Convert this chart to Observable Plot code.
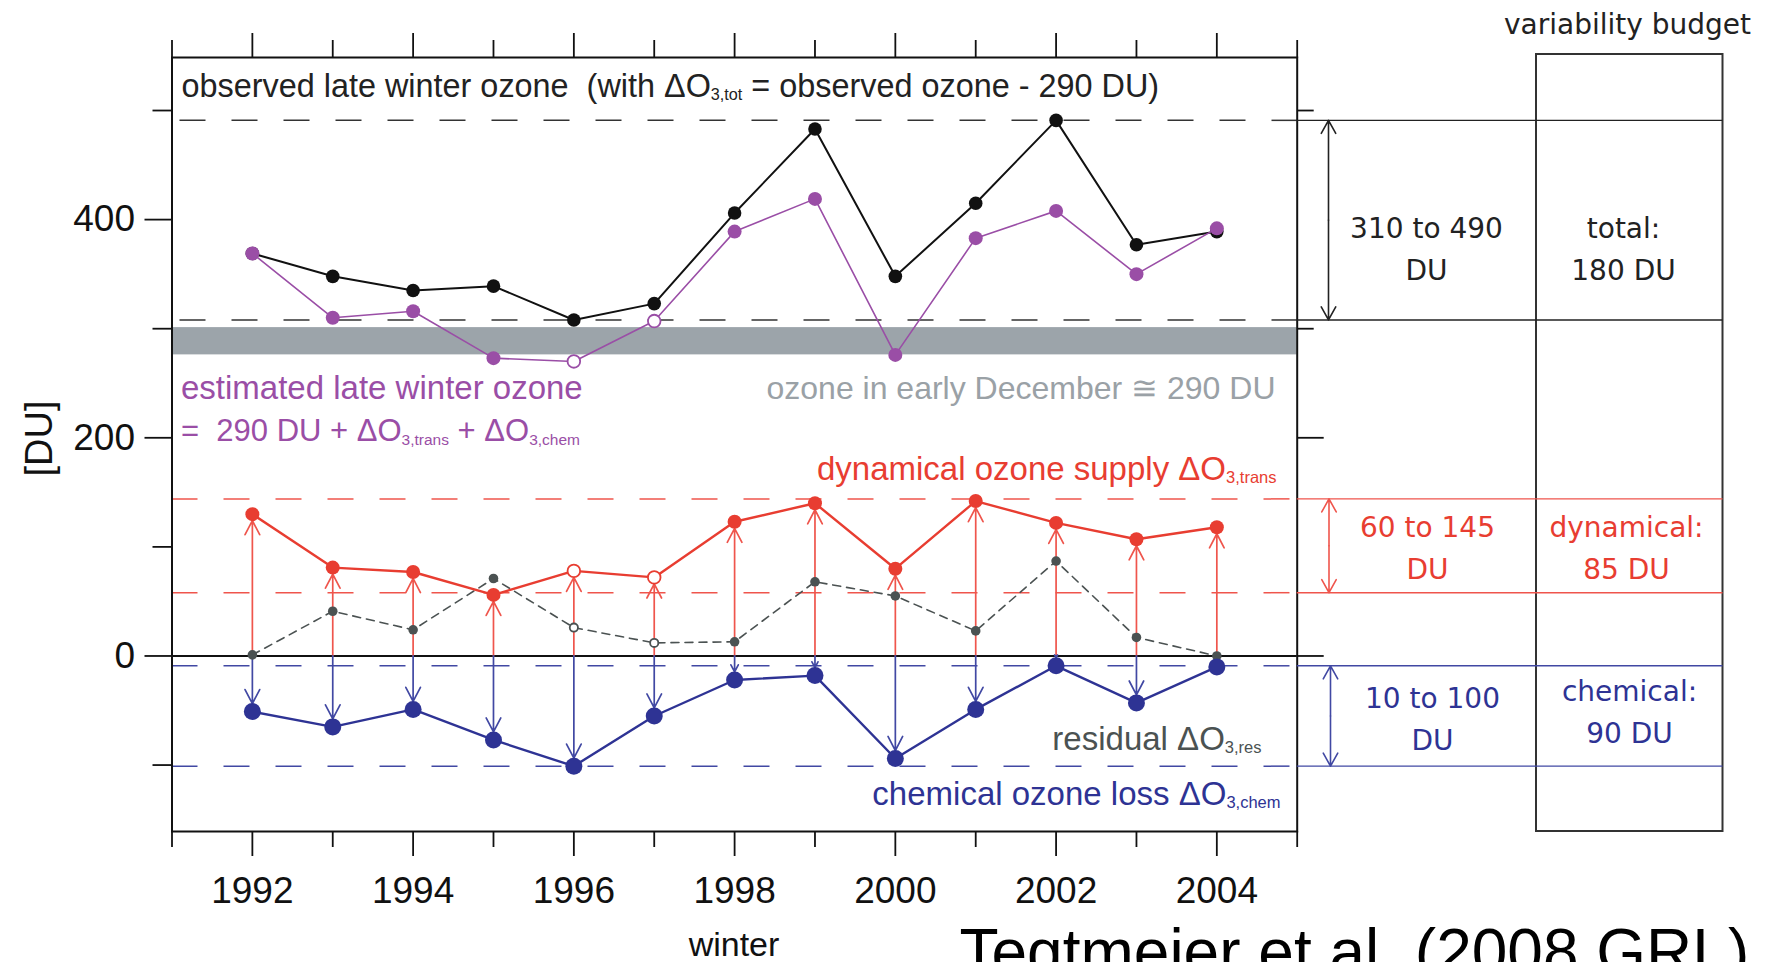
<!DOCTYPE html>
<html><head><meta charset="utf-8">
<script src="https://cdn.jsdelivr.net/npm/d3@7"></script>
<script src="https://cdn.jsdelivr.net/npm/@observablehq/plot@0.6"></script>
<style>html,body{margin:0;padding:0;background:#fff;overflow:hidden}</style>
</head><body><div id="chart"></div>
<script>
// ---------------- data ----------------
const winters   = [1992,1993,1994,1995,1996,1997,1998,1999,2000,2001,2002,2003,2004];
const observed  = [369, 348, 335, 339, 308, 323, 406, 483, 348, 415, 491, 377, 389];
const estimated = [369, 310, 316, 273, 270, 307, 389, 419, 276, 383, 408, 350, 392];
const dynamical = [130,  81,  77,  56,  78,  72, 123, 140,  80, 142, 122, 107, 118];
const chemical  = [-51, -65, -49, -77,-101, -55, -22, -18, -94, -49,  -9, -43, -10];
const residual  = [  1,  41,  24,  71,  26,  12,  13,  68,  55,  23,  87,  17,   0];
const openMarker= [false,false,false,false,true,true,false,false,false,false,false,false,false];

const totalRange = [308, 491];
const dynRange   = [58, 144];
const chemRange  = [-9, -101];
const decemberBand = [276, 301];

const yMajorTicks = [0, 200, 400];
const yMinorTicks = [-100, 100, 300, 500];
const yRightShort = [300, 500];
const yRightLong  = [0, 200];
const evenYears = [1992,1994,1996,1998,2000,2002,2004];
const oddYears  = [1991,1993,1995,1997,1999,2001,2003,2005];

const txtObserved  = "observed late winter ozone  (with ΔO_{3,tot} = observed ozone - 290 DU)";
const txtEstimated = "estimated late winter ozone";
const txtEstFormula= "=  290 DU + ΔO_{3,trans} + ΔO_{3,chem}";
const txtDecember  = "ozone in early December ≅ 290 DU";
const txtDynamical = "dynamical ozone supply ΔO_{3,trans}";
const txtResidual  = "residual ΔO_{3,res}";
const txtChemical  = "chemical ozone loss ΔO_{3,chem}";
const budgetTitle  = "variability budget";
const rangeLabels  = ["310 to 490\nDU", "60 to 145\nDU", "10 to 100\nDU"];
const budgetLabels = ["total:\n180 DU", "dynamical:\n85 DU", "chemical:\n90 DU"];
const xLabel = "winter";
const yLabel = "[DU]";
const citation = "Tegtmeier et al. (2008 GRL)";

// ---------------- layout ----------------
const W = 1769, H = 962;
const frameL = 171.5, frameR = 1296.7, frameT = 57, frameB = 831;
const xDomain = [1991, 2005];
const yDomain = [-160.9, 548.6];
const xS = Plot.scale({x: {domain: xDomain, range: [frameL, frameR]}});
const yS = Plot.scale({y: {domain: yDomain, range: [frameB, frameT]}});
const px = v => xS.invert(v), py = v => yS.invert(v);

const BLACK = "#111", PURPLE = "#9a4ea6", RED = "#e83d31", REDL = "#ef554c",
      BLUE = "#2e3394", BLUEL = "#4148a3", GREY = "#9ca4aa", RESID = "#4b5252";
const fAnn = "Liberation Sans, Arial, Helvetica, sans-serif";
const fBud = "DejaVu Sans, Verdana, sans-serif";

const rows = winters.map((w, i) => ({
  winter: w, observed: observed[i], estimated: estimated[i], dynamical: dynamical[i],
  chemical: chemical[i], residual: residual[i], open: openMarker[i]
}));

function series(key, color, r, sw, opts = {}) {
  const {noOpen, ...lineOpts} = opts;
  return [
    Plot.line(rows, {x: "winter", y: key, stroke: color, strokeWidth: sw, ...lineOpts}),
    Plot.dot(rows, {filter: d => !d.open || noOpen, x: "winter", y: key, r, fill: color, stroke: "none"}),
    Plot.dot(rows, {filter: d => d.open && !noOpen, x: "winter", y: key, r: r - 0.7, fill: "white", stroke: color, strokeWidth: 1.8})
  ];
}

function bracket(range, color, xpx) {
  const mid = (range[0] + range[1]) / 2;
  return Plot.arrow(range, {x1: px(xpx), x2: px(xpx), y1: mid, y2: d => d,
    stroke: color, strokeWidth: 1.6, headLength: 14, headAngle: 58});
}

const boxL = px(1536), boxR = px(1722.5);

const ann = (text, xp, yp, o) => Plot.text([text], {x: px(xp), y: py(yp), text: d => d,
  fontFamily: fAnn, fontSize: 33, lineAnchor: "middle", ...o});
const bud = (text, xp, yp, color) => Plot.text([text], {x: px(xp), y: py(yp), text: d => d,
  fontFamily: fBud, fontSize: 28, lineHeight: 1.5, fill: color});

const chart = Plot.plot({
  width: W, height: H,
  marginLeft: frameL, marginRight: W - frameR, marginTop: frameT, marginBottom: H - frameB,
  x: {domain: xDomain, label: null},
  y: {domain: yDomain, label: null},
  style: {fontFamily: fAnn, fontSize: "14px", background: "white", color: "#111"},
  marks: [
    // grey band: ozone in early December
    Plot.rect([decemberBand], {x1: xDomain[0], x2: xDomain[1], y1: d => d[0], y2: d => d[1], fill: GREY}),
    // dashed range lines
    Plot.ruleY(totalRange, {x1: xDomain[0], x2: xDomain[1], stroke: "#333", strokeWidth: 1.5, strokeDasharray: "26,26", strokeDashoffset: -8}),
    Plot.ruleY(dynRange, {x1: xDomain[0], x2: xDomain[1], stroke: REDL, strokeWidth: 1.5, strokeDasharray: "26,26", strokeDashoffset: 0}),
    Plot.ruleY(chemRange, {x1: xDomain[0], x2: xDomain[1], stroke: BLUEL, strokeWidth: 1.5, strokeDasharray: "26,26", strokeDashoffset: 0}),
    // zero line
    Plot.ruleY([0], {x1: xDomain[0], x2: xDomain[1], stroke: BLACK, strokeWidth: 2}),
    // arrows
    Plot.arrow(rows, {x1: "winter", x2: "winter", y1: 0, y2: "dynamical", stroke: REDL, strokeWidth: 1.7, headLength: 14, headAngle: 55, insetEnd: 6.5}),
    Plot.arrow(rows, {x1: "winter", x2: "winter", y1: 0, y2: "chemical", stroke: BLUEL, strokeWidth: 1.7, headLength: 14, headAngle: 55, insetEnd: 8}),
    // series
    ...series("residual", RESID, 4.8, 1.6, {strokeDasharray: "8,6"}),
    ...series("dynamical", RED, 7, 2.4),
    ...series("chemical", BLUE, 8.5, 2.4, {noOpen: true}),
    ...series("observed", BLACK, 6.8, 2, {noOpen: true}),
    ...series("estimated", PURPLE, 7, 1.6),
    // frame + axes
    Plot.frame({stroke: "#111", strokeWidth: 2}),
    Plot.axisY(yMajorTicks, {anchor: "left", tickSize: 27, tickPadding: 10, fontSize: 37, strokeWidth: 1.8, label: null, tickFormat: d => String(d)}),
    Plot.axisY(yMinorTicks, {anchor: "left", tickSize: 19, strokeWidth: 1.8, label: null, tickFormat: () => ""}),
    Plot.axisY(yRightShort, {anchor: "right", tickSize: 16, strokeWidth: 1.8, label: null, tickFormat: () => ""}),
    Plot.axisY(yRightLong, {anchor: "right", tickSize: 26, strokeWidth: 1.8, label: null, tickFormat: () => ""}),
    Plot.axisX(evenYears, {anchor: "top", tickSize: 25, strokeWidth: 1.8, label: null, tickFormat: () => ""}),
    Plot.axisX(oddYears, {anchor: "top", tickSize: 18, strokeWidth: 1.8, label: null, tickFormat: () => ""}),
    Plot.axisX(evenYears, {anchor: "bottom", tickSize: 25, tickPadding: 20, fontSize: 37, strokeWidth: 1.8, label: null, tickFormat: d => String(d)}),
    Plot.axisX(oddYears, {anchor: "bottom", tickSize: 16, strokeWidth: 1.8, label: null, tickFormat: () => ""}),
    Plot.text([xLabel], {x: px(733.5), y: py(945), text: d => d, fontSize: 34, fontFamily: fAnn}),
    Plot.text([yLabel], {x: px(39.5), y: py(438), rotate: -90, text: d => d, fontSize: 38, fontFamily: fAnn}),
    Plot.text([citation], {x: px(959), y: py(953), text: d => d, textAnchor: "start", fontSize: 64, fontFamily: fAnn, fill: "#000"}),
    // annotations in plot
    ann(txtObserved, 181, 86, {textAnchor: "start", fill: "#222", fontSize: 32.4}),
    ann(txtEstimated, 180.5, 388, {textAnchor: "start", fill: PURPLE}),
    ann(txtEstFormula, 180.5, 431, {textAnchor: "start", fill: PURPLE, fontSize: 31}),
    ann(txtDecember, 1275, 388, {textAnchor: "end", fill: "#9aa1a6", fontSize: 32}),
    ann(txtDynamical, 1276, 469, {textAnchor: "end", fill: RED}),
    ann(txtResidual, 1261, 739, {textAnchor: "end", fill: RESID}),
    ann(txtChemical, 1280, 794, {textAnchor: "end", fill: BLUE}),
    // right panel: variability budget
    Plot.rect([0], {x1: boxL, x2: boxR, y1: py(54), y2: py(frameB), fill: "none", stroke: "#333", strokeWidth: 2}),
    Plot.ruleY(totalRange, {x1: xDomain[1], x2: boxR, stroke: "#222", strokeWidth: 1.4}),
    Plot.ruleY(dynRange, {x1: xDomain[1], x2: boxR, stroke: REDL, strokeWidth: 1.4}),
    Plot.ruleY(chemRange, {x1: xDomain[1], x2: boxR, stroke: BLUEL, strokeWidth: 1.4}),
    bracket(totalRange, "#222", 1328),
    bracket(dynRange, REDL, 1328.5),
    bracket(chemRange, BLUEL, 1330),
    Plot.text([budgetTitle], {x: px(1627), y: py(25), text: d => d, fontFamily: fBud, fontSize: 28, fill: "#222"}),
    bud(rangeLabels[0], 1426, 245.5, "#222"),
    bud(rangeLabels[1], 1427, 544, RED),
    bud(rangeLabels[2], 1432, 715.5, BLUE),
    bud(budgetLabels[0], 1623, 245.5, "#222"),
    bud(budgetLabels[1], 1626, 544, RED),
    bud(budgetLabels[2], 1629, 708.5, BLUE)
  ]
});
document.getElementById("chart").append(chart);

// subscripts: turn "_{...}" into smaller, lowered tspans
const NS = "http://www.w3.org/2000/svg";
chart.querySelectorAll("text").forEach(t => {
  const s = t.textContent;
  if (!s.includes("_{")) return;
  const fs = parseFloat(getComputedStyle(t).fontSize);
  const shift = fs * 0.1;
  while (t.firstChild) t.removeChild(t.firstChild);
  let pending = 0;
  const add = (str, sub) => {
    const ts = document.createElementNS(NS, "tspan");
    ts.textContent = str;
    if (sub) { ts.setAttribute("font-size", (fs * 0.5) + "px"); ts.setAttribute("dy", shift); pending = shift; }
    else if (pending) { ts.setAttribute("dy", -pending); pending = 0; }
    t.appendChild(ts);
  };
  const re = /_\{([^}]*)\}/g; let last = 0, m;
  while ((m = re.exec(s))) {
    if (m.index > last) add(s.slice(last, m.index), false);
    add(m[1], true);
    last = re.lastIndex;
  }
  if (last < s.length) add(s.slice(last), false);
});
</script></body></html>
